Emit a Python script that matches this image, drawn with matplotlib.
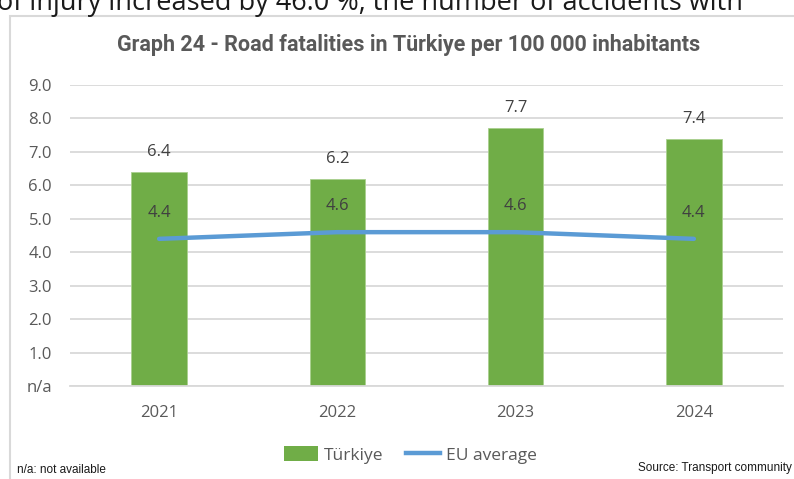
import matplotlib
matplotlib.use("Agg")
import matplotlib.pyplot as plt
from matplotlib.patches import Rectangle
from matplotlib.lines import Line2D
from matplotlib import font_manager

years = ["2021", "2022", "2023", "2024"]
turkiye = [6.4, 6.2, 7.7, 7.4]
eu_average = [4.4, 4.6, 4.6, 4.4]
y_ticks = [0, 1, 2, 3, 4, 5, 6, 7, 8, 9]
y_tick_labels = ["n/a", "1.0", "2.0", "3.0", "4.0", "5.0", "6.0", "7.0", "8.0", "9.0"]

GREEN = "#70ad47"
BLUE = "#5b9bd5"
GRID = "#d9d9d9"
TEXT = "#595959"
BODY_FONT = ["Open Sans", "DejaVu Sans"]

installed = {f.name for f in font_manager.fontManager.ttflist}
NOTE_FONT = ["Liberation Sans Narrow", "Liberation Sans", "DejaVu Sans"] \
    if "Liberation Sans Narrow" in installed else ["Liberation Sans", "DejaVu Sans"]
NOTE_SIZE = 9.8 if "Liberation Sans Narrow" in installed else 8.5

W, H = 794, 479
fig = plt.figure(figsize=(W / 100, H / 100), dpi=100)

# Running text of the surrounding page, cut off at the top edge
fig.text(-3 / W, 1 - 10 / H, "of injury increased by 46.0 %, the number of accidents with",
         ha="left", va="baseline", fontsize=19.5, color="#1a1a1a", family=["Open Sans", "DejaVu Sans"])

# Chart frame
frame = Rectangle((9.5 / W, -0.1), 1.2, 1 - 16 / H + 0.1, transform=fig.transFigure,
                  fill=False, edgecolor=GRID, linewidth=1.5)
fig.add_artist(frame)

fig.text(409 / W, 1 - 45 / H, "Graph 24 - Road fatalities in Türkiye per 100 000 inhabitants",
         ha="center", va="center", fontsize=15.5, fontweight="bold", color=TEXT,
         family=["Roboto", "DejaVu Sans"])

ax = fig.add_axes([70 / W, 1 - 386 / H, (783 - 70) / W, (386 - 85) / H])
x = range(len(years))
ax.bar(x, turkiye, width=0.31, color=GREEN, edgecolor="#a9d08e", linewidth=0.6, zorder=2)
ax.plot(x, eu_average, color=BLUE, linewidth=3.2, solid_capstyle="round", zorder=3)

for i, v in enumerate(turkiye):
    ax.annotate(f"{v:.1f}", (i, v), xytext=(0, 20), textcoords="offset pixels",
                ha="center", va="center", fontsize=12, color="#404040", family=BODY_FONT)
for i, v in enumerate(eu_average):
    ax.annotate(f"{v:.1f}", (i, v), xytext=(0, 26), textcoords="offset pixels",
                ha="center", va="center", fontsize=12, color="#404040", family=BODY_FONT, zorder=4)

ax.set_xlim(-0.5, len(years) - 0.5)
ax.set_ylim(0, 9)
ax.set_yticks(y_ticks)
ax.set_yticklabels(y_tick_labels)
ax.set_xticks(list(x))
ax.set_xticklabels(years)
ax.grid(axis="y", color=GRID, linewidth=1.3, zorder=0)
ax.set_axisbelow(True)
for side in ["top", "right", "left"]:
    ax.spines[side].set_visible(False)
ax.spines["bottom"].set_color(GRID)
ax.spines["bottom"].set_linewidth(1.3)
ax.tick_params(axis="both", length=0, colors=TEXT, labelsize=12)
ax.tick_params(axis="y", pad=13)
ax.tick_params(axis="x", pad=14)
for lbl in ax.get_xticklabels() + ax.get_yticklabels():
    lbl.set_family(BODY_FONT)

handles = [Rectangle((0, 0), 1, 1, facecolor=GREEN, edgecolor="none"),
           Line2D([0], [0], color=BLUE, linewidth=3.2)]
fig.legend(handles, ["Türkiye", "EU average"], loc="center", bbox_to_anchor=(410 / W, 1 - 455 / H),
           ncol=2, frameon=False, labelcolor=TEXT, handlelength=2.0,
           handleheight=0.9, columnspacing=1.3, handletextpad=0.3,
           prop={"family": BODY_FONT, "size": 12.5})

fig.text(17 / W, 1 - 470 / H, "n/a: not available", ha="left", va="center", fontsize=NOTE_SIZE,
         color="#1a1a1a", family=NOTE_FONT)
fig.text(792 / W, 1 - 468 / H, "Source: Transport community", ha="right", va="center",
         fontsize=NOTE_SIZE, color="#1a1a1a", family=NOTE_FONT)

fig.savefig("out.png", dpi=100)
